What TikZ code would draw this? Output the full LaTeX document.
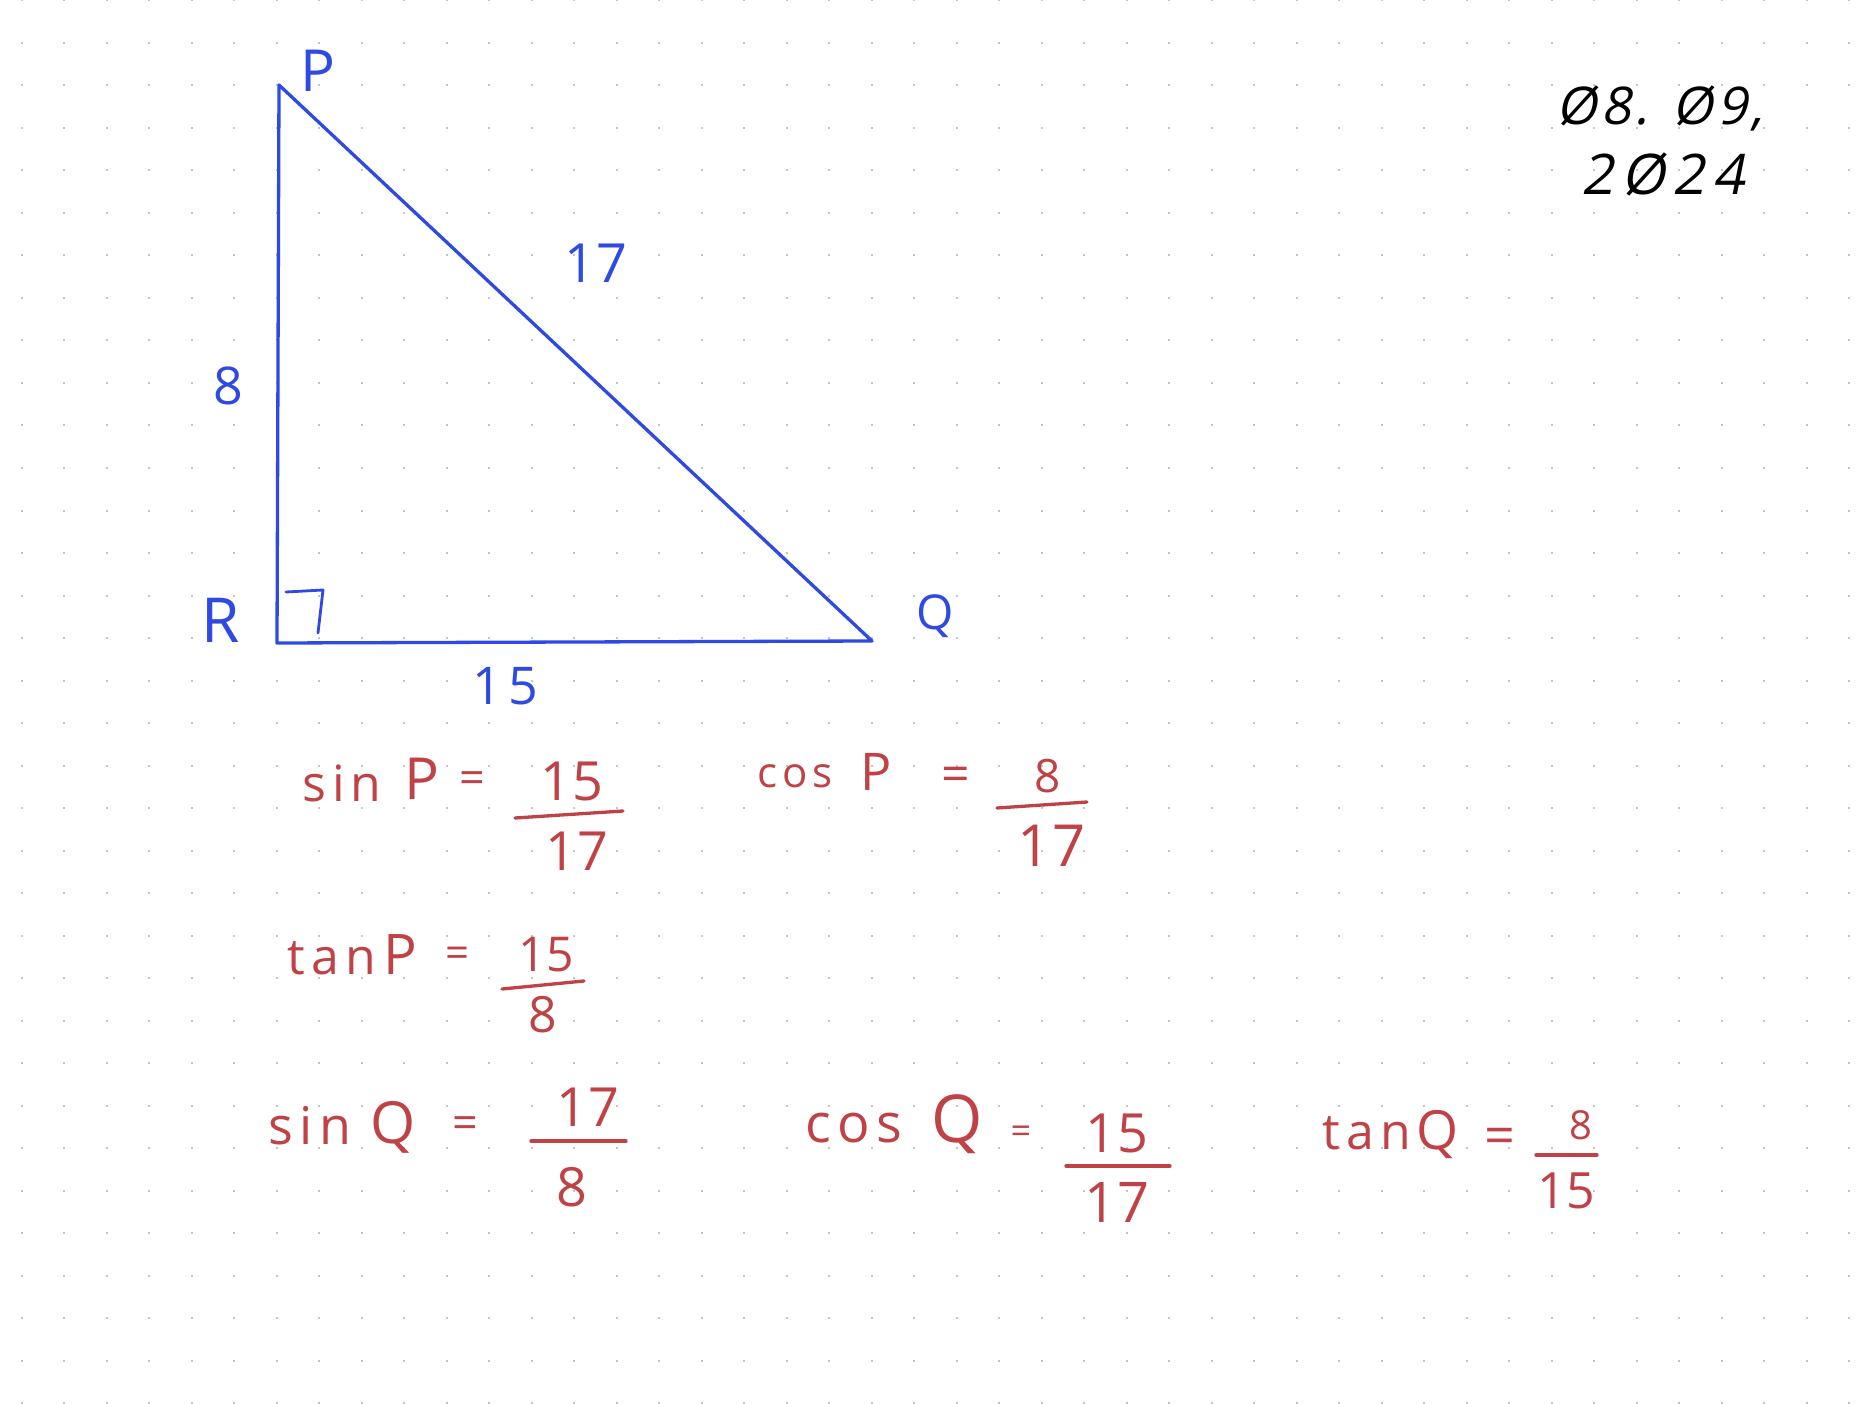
\documentclass[tikz,border=0pt]{standalone}
\usepackage{fontspec}
\usepackage{graphicx}
\newfontfamily\hand{Open Sans}
\newfontfamily\handsp[LetterSpace=12]{Open Sans}
\newfontfamily\handnum[LetterSpace=3]{Open Sans}
\newfontfamily\handsl[FakeSlant=0.2,LetterSpace=8]{Open Sans}
\newcommand\hsz[1]{\fontsize{#1}{#1}\selectfont}
\definecolor{penblue}{RGB}{46,74,226}
\definecolor{penred}{RGB}{190,66,70}
\definecolor{griddot}{RGB}{196,196,196}
\begin{document}
\begin{tikzpicture}[x=1pt,y=-1pt,
  lbl/.style={inner sep=0pt, outer sep=0pt, text=penblue},
  eq/.style={inner sep=0pt, outer sep=0pt, text=penred},
  tri/.style={draw=penblue, line width=3.3pt, line cap=round, line join=round},
  fracbar/.style={draw=penred, line width=3.3pt, line cap=round},
]
\fill[white] (0,0) rectangle (1872,1404);
\useasboundingbox (0,0) rectangle (1872,1404);
\foreach \i in {0,...,43}{\foreach \j in {0,...,33}{
  \fill[griddot] ({20.5+42.5*\i},{-0.5+42.5*\j}) rectangle ++(2,2);}}

% triangle
\coordinate (P) at (279,85);
\coordinate (R) at (277,643);
\coordinate (Q) at (872,641);
\draw[tri] (P) -- (R) -- (Q) -- cycle;
\coordinate (ra1) at (286,592);
\coordinate (ra2) at (323,590);
\coordinate (ra3) at (318,633);
\draw[penblue, line width=2.8pt, line cap=round, line join=round] (ra1) -- (ra2) -- (ra3);

\node[lbl, font=\hand\hsz{58}] (lP) at (318,71) {P};
\node[lbl, font=\hand\hsz{62}] (lR) at (221,620) {R};
\node[lbl, font=\hand\hsz{48}] (lQ) at (935,616) {Q};
\node[lbl, font=\handnum\hsz{54}] (l17) at (596,263) {17};
\node[lbl, font=\hand\hsz{52}] (l8) at (228,386) {8};
\node[lbl, font=\handsp\hsz{52}] (l15) at (505,686) {15};

% date
\node[inner sep=0pt, font=\handsl\hsz{52}] (d1) at (1660,108) {Ø8. Ø9,};
\node[inner sep=0pt, font=\handsl\hsz{56}\addfontfeature{LetterSpace=14}] (d2) at (1663,174) {2Ø24};

% sin P
\node[eq, font=\handsp\hsz{50}] (sP) at (342,783) {sin};
\node[eq, font=\hand\hsz{58}] (sPP) at (422,779) {P};
\node[eq, font=\hand\hsz{45}] (sPe) at (472,783) {=};
\node[eq, font=\handnum\hsz{54}] (sPn) at (572,781) {15};
\coordinate (sPb1) at (515,818); \coordinate (sPb2) at (623,811);
\draw[fracbar] (sPb1) -- (sPb2);
\node[eq, font=\handnum\hsz{54}] (sPd) at (577,851) {17};

% cos P
\node[eq, font=\handsp\hsz{42}] (cP) at (795,776) {cos};
\node[eq, font=\hand\hsz{52}] (cPP) at (876,772) {P};
\node[eq, font=\hand\hsz{50}] (cPe) at (956,779) {=};
\node[eq, font=\hand\hsz{46}] (cPn) at (1048,776) {8};
\coordinate (cPb1) at (997,808); \coordinate (cPb2) at (1087,802);
\draw[fracbar] (cPb1) -- (cPb2);
\node[eq, font=\handnum\hsz{58}] (cPd) at (1052,846) {17};

% tan P
\node[eq, font=\handsp\hsz{50}] (tP) at (332,958) {tan};
\node[eq, font=\hand\hsz{56}] (tPP) at (400,955) {P};
\node[eq, font=\hand\hsz{42}] (tPe) at (458,957) {=};
\node[eq, font=\hand\hsz{48}] (tPn) at (546,955) {15};
\coordinate (tPb1) at (502,989); \coordinate (tPb2) at (584,981);
\draw[fracbar] (tPb1) -- (tPb2);
\node[eq, font=\hand\hsz{50}] (tPd) at (543,1015) {8};

% sin Q
\node[eq, font=\handsp\hsz{52}] (sQ) at (310,1126) {sin};
\node[eq, font=\hand\hsz{58}] (sQQ) at (393,1127) {Q};
\node[eq, font=\hand\hsz{45}] (sQe) at (465,1128) {=};
\node[eq, font=\handnum\hsz{54}] (sQn) at (588,1107) {17};
\coordinate (sQb1) at (531,1141); \coordinate (sQb2) at (626,1141);
\draw[fracbar] (sQb1) -- (sQb2);
\node[eq, font=\hand\hsz{54}] (sQd) at (572,1187) {8};

% cos Q
\node[eq, font=\handsp\hsz{54}] (cQ) at (854,1128) {cos};
\node[eq, font=\hand\hsz{66}] (cQQ) at (957,1124) {Q};
\node[eq, font=\hand\hsz{36}] (cQe) at (1021,1135) {=};
\node[eq, font=\handnum\hsz{54}] (cQn) at (1117,1133) {15};
\coordinate (cQb1) at (1066,1166); \coordinate (cQb2) at (1170,1166);
\draw[fracbar] (cQb1) -- (cQb2);
\node[eq, font=\handnum\hsz{56}] (cQd) at (1117,1203) {17};

% tan Q
\node[eq, font=\handsp\hsz{50}] (tQ) at (1367,1133) {tan};
\node[eq, font=\hand\hsz{54}] (tQQ) at (1438,1135) {Q};
\node[eq, font=\hand\hsz{54}] (tQe) at (1500,1141) {=};
\node[eq, font=\hand\hsz{40}] (tQn) at (1581,1125) {8};
\coordinate (tQb1) at (1536,1155); \coordinate (tQb2) at (1597,1155);
\draw[fracbar] (tQb1) -- (tQb2);
\node[eq, font=\hand\hsz{50}] (tQd) at (1566,1191) {15};
\end{tikzpicture}
\end{document}
